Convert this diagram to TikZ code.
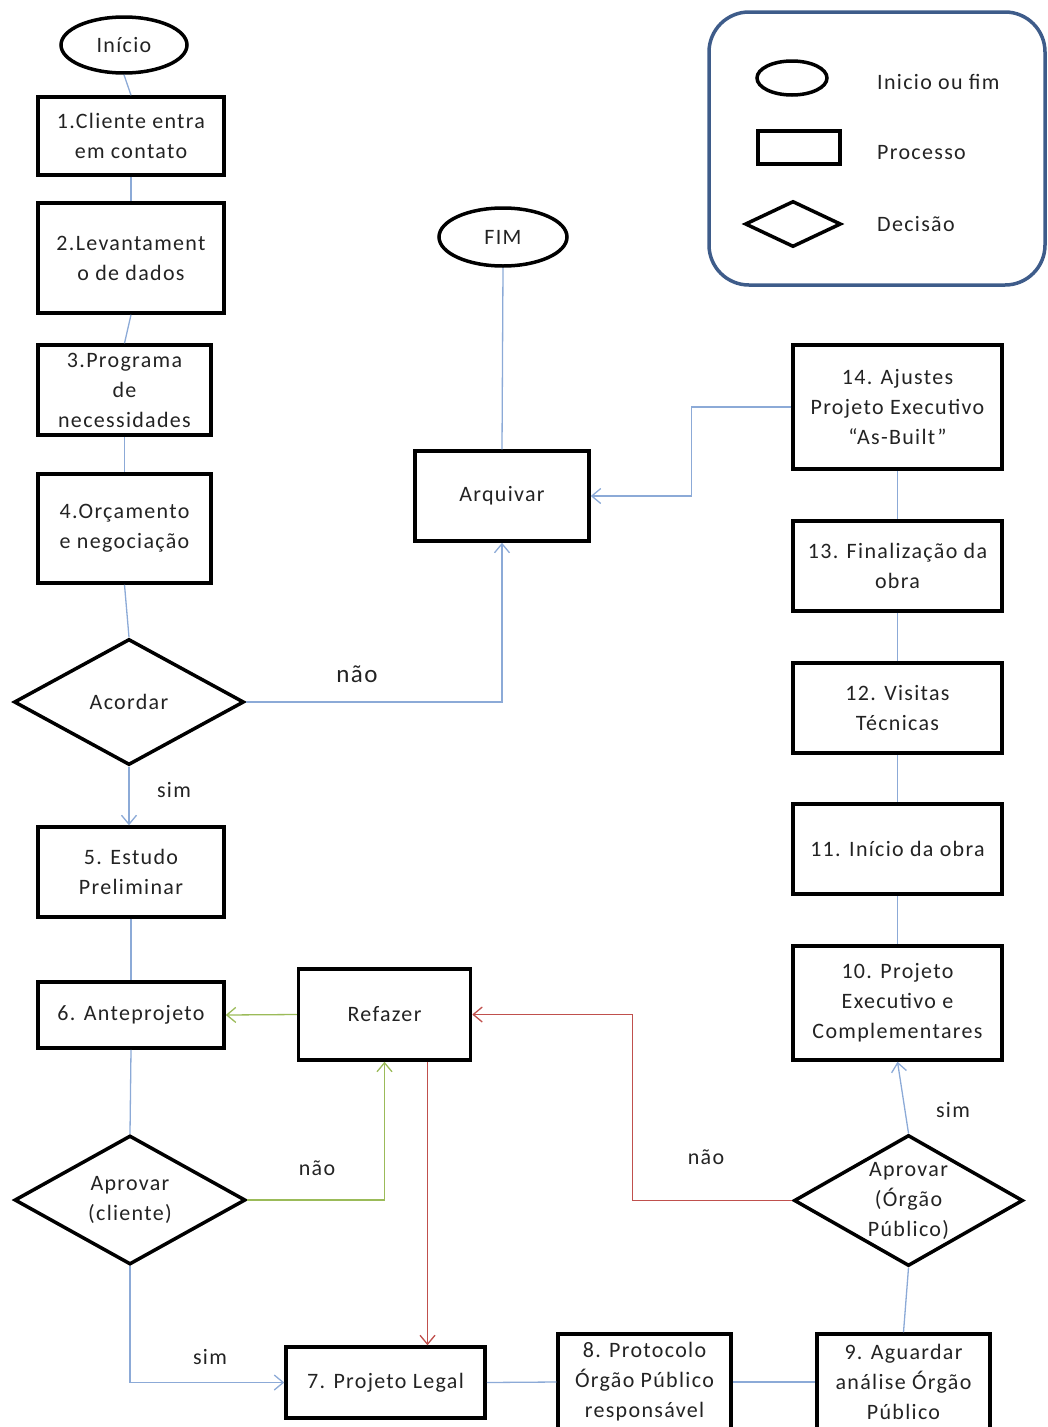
\documentclass[tikz,border=0pt]{standalone}
\usepackage{fontspec}
\setmainfont{Carlito}[LetterSpace=6]
\usetikzlibrary{shapes.geometric,arrows.meta}
\definecolor{flow}{RGB}{140,170,215}
\definecolor{okgreen}{RGB}{155,187,89}
\definecolor{backred}{RGB}{192,80,77}
\definecolor{framecol}{RGB}{62,92,138}
\definecolor{ink}{RGB}{35,35,35}
\begin{document}
\begin{tikzpicture}[x=1pt,y=-1pt,
  every node/.style={font=\fontsize{22}{30}\selectfont, text=ink},
  box/.style={draw=black, line width=3.5pt, inner sep=0pt, align=center},
  term/.style={ellipse, draw=black, line width=3.5pt, inner sep=0pt},
  decision/.style={diamond, draw=black, line width=3.5pt, inner sep=0pt},
  dtext/.style={align=center, inner sep=0pt},
  link/.style={draw=flow, line width=1.3pt},
  tip/.style={-{Straight Barb[length=9pt,width=15pt,line width=1.3pt]}},
  lbl/.style={inner sep=0pt}
]
\useasboundingbox (0,0) rectangle (1048,1427);

% legend
\draw[framecol, line width=3.5pt, rounded corners=40pt] (709,12) rectangle (1045,285);
\node[term, minimum width=70pt, minimum height=34pt] (lgterm) at (792,78) {};
\node[box, minimum width=82pt, minimum height=33pt] (lgbox) at (799,147.5) {};
\node[decision, minimum width=96pt, minimum height=46pt] (lgdec) at (793,224) {};
\node[lbl, anchor=west] (lgt1) at (877,82) {Inicio ou fim};
\node[lbl, anchor=west] (lgt2) at (877,153) {Processo};
\node[lbl, anchor=west] (lgt3) at (877,224) {Decisão};

% left column
\node[term, minimum width=126pt, minimum height=56pt] (start) at (124,45) {Início};
\node[box, minimum width=186pt, minimum height=78pt] (n1) at (131,136) {1.Cliente entra\\em contato};
\node[box, minimum width=186pt, minimum height=110pt] (n2) at (131,258) {2.Levantament\\o de dados};
\node[box, minimum width=173pt, minimum height=90pt] (n3) at (124.5,390) {3.Programa\\de\\necessidades};
\node[box, minimum width=173pt, minimum height=109pt] (n4) at (124.5,528.5) {4.Orçamento\\e negociação};
\node[decision, minimum width=230pt, minimum height=126pt] (acordar) at (129,702) {};
\node[dtext] at (acordar) {Acordar};
\node[box, minimum width=186pt, minimum height=90pt] (n5) at (131,872) {5. Estudo\\Preliminar};
\node[box, minimum width=186pt, minimum height=66pt] (n6) at (131,1015) {6. Anteprojeto};
\node[decision, minimum width=231pt, minimum height=129pt] (aprc) at (130,1200) {};
\node[dtext] at (aprc) {Aprovar\\(cliente)};

% middle
\node[term, minimum width=128pt, minimum height=58pt] (fim) at (503,237) {FIM};
\node[box, minimum width=174pt, minimum height=90pt] (arquivar) at (502,496) {Arquivar};
\node[box, minimum width=172pt, minimum height=91pt] (refazer) at (384.5,1014.5) {Refazer};

% bottom row
\node[box, minimum width=199pt, minimum height=71pt] (n7) at (385.5,1382.5) {7. Projeto Legal};
\node[box, minimum width=173pt, minimum height=96pt] (n8) at (644.5,1382) {8. Protocolo\\Órgão Público\\responsável};
\node[box, minimum width=173pt, minimum height=96pt] (n9) at (903.5,1382) {9. Aguardar\\análise Órgão\\Público};

% right column
\node[decision, minimum width=229pt, minimum height=131pt] (apro) at (908.5,1200.5) {};
\node[dtext] at (apro) {Aprovar\\(Órgão\\Público)};
\node[box, minimum width=209pt, minimum height=114pt] (n10) at (897.5,1003) {10. Projeto\\Executivo e\\Complementares};
\node[box, minimum width=209pt, minimum height=90pt] (n11) at (897.5,849) {11. Início da obra};
\node[box, minimum width=209pt, minimum height=90pt] (n12) at (897.5,708) {12. Visitas\\Técnicas};
\node[box, minimum width=209pt, minimum height=90pt] (n13) at (897.5,566) {13. Finalização da\\obra};
\node[box, minimum width=209pt, minimum height=124pt] (n14) at (897.5,407) {14. Ajustes\\Projeto Executivo\\“As-Built”};

% plain links
\draw[link] (start.south) -- (n1.north);
\draw[link] (n1.south) -- (n2.north);
\draw[link] (n2.south) -- (n3.north);
\draw[link] (n3.south) -- (n4.north);
\draw[link] (n4.south) -- (acordar.north);
\draw[link] (n5.south) -- (n6.north);
\draw[link] (n6.south) -- (aprc.north);
\draw[link] (arquivar.north) -- (fim.south);
\draw[link] (n7.east) -- (n8.west);
\draw[link] (n8.east) -- (n9.west);
\draw[link] (n9.north) -- (apro.south);
\draw[link] (n11.south) -- (n10.north);
\draw[link] (n12.south) -- (n11.north);
\draw[link] (n13.south) -- (n12.north);
\draw[link] (n14.south) -- (n13.north);

% arrows
\draw[link, tip] (acordar.south) -- (acordar.south |- n5.north);
\draw[link, tip] (acordar.east) -| (arquivar.south);
\draw[link, tip] (n14.west) -- ++(-100,0) |- (arquivar.east);
\draw[link, tip] (aprc.south) |- (n7.west);
\draw[link, tip] (apro.north) -- (n10.south);
\draw[link, draw=okgreen, tip] (refazer.west) -- (n6.east);
\draw[link, draw=okgreen, tip] (aprc.east) -| (refazer.south);
\draw[link, draw=backred, tip] (apro.west) -- ++(-160,0) |- (refazer.east);
\draw[link, draw=backred, tip] ([xshift=43pt]refazer.south) -- ([xshift=43pt]refazer.south |- n7.north);

% branch labels
\node[lbl] (l1) at (174,790) {sim};
\node[lbl, font=\fontsize{25}{28}\selectfont] (l2) at (357,674) {não};
\node[lbl] (l3) at (317,1168) {não};
\node[lbl] (l4) at (210,1357) {sim};
\node[lbl] (l5) at (706,1157) {não};
\node[lbl] (l6) at (953,1110) {sim};
\end{tikzpicture}
\end{document}
